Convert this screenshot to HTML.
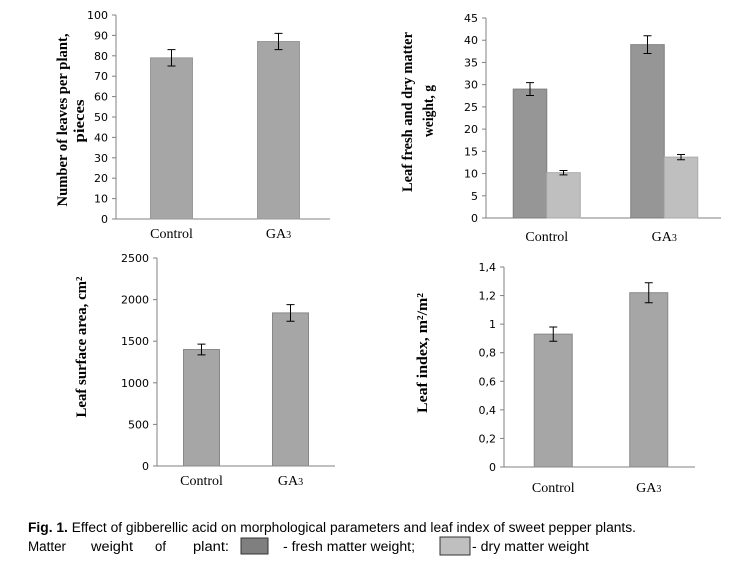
<!DOCTYPE html>
<html><head><meta charset="utf-8"><style>
html,body{margin:0;padding:0;background:#fff;}
svg{display:block}
.tick{font-family:"DejaVu Sans","Liberation Sans",sans-serif;font-size:11px;fill:#000}
.cat{font-family:"Liberation Serif",serif;font-size:14px;fill:#000}
.yt{font-family:"Liberation Serif",serif;font-size:15px;font-weight:bold;fill:#000}
.cap{font-family:"Liberation Sans",sans-serif;font-size:13.5px;fill:#000}
</style></head><body>
<svg id="fig" width="735" height="572" viewBox="0 0 735 572" xmlns="http://www.w3.org/2000/svg">
<g id="c1"></g>
<g id="c2"></g>
<g id="c3"></g>
<g id="c4"></g>
<g>
<text class="cap" x="28" y="532" textLength="608" lengthAdjust="spacingAndGlyphs"><tspan font-weight="bold">Fig. 1.</tspan> Effect of gibberellic acid on morphological parameters and leaf index of sweet pepper plants.</text>
<text class="cap" x="28" y="551" textLength="38" lengthAdjust="spacingAndGlyphs">Matter</text>
<text class="cap" x="91" y="551" textLength="42" lengthAdjust="spacingAndGlyphs">weight</text>
<text class="cap" x="155" y="551" textLength="11" lengthAdjust="spacingAndGlyphs">of</text>
<text class="cap" x="193" y="551" textLength="36" lengthAdjust="spacingAndGlyphs">plant:</text>
<rect x="241" y="538" width="27" height="16" fill="#7f7f7f" stroke="#333"/>
<text class="cap" x="283" y="551" textLength="132" lengthAdjust="spacingAndGlyphs">- fresh matter weight;</text>
<rect x="440" y="537" width="30" height="18" fill="#bfbfbf" stroke="#333"/>
<text class="cap" x="472" y="551" textLength="117" lengthAdjust="spacingAndGlyphs">- dry matter weight</text>
</g>
</svg>
<script>
const categories = ["Control", "GA3"];
const leavesValues = [79, 87];
const leavesErr = [4, 4];
const freshValues = [29, 39];
const freshErr = [1.45, 2];
const dryValues = [10.2, 13.7];
const dryErr = [0.5, 0.6];
const areaValues = [1400, 1840];
const areaErr = [65, 100];
const indexValues = [0.93, 1.22];
const indexErr = [0.05, 0.07];
const leavesTicks = [0,10,20,30,40,50,60,70,80,90,100];
const weightTicks = [0,5,10,15,20,25,30,35,40,45];
const areaTicks = [0,500,1000,1500,2000,2500];
const indexTicks = [0,0.2,0.4,0.6,0.8,1,1.2,1.4];

const NS = "http://www.w3.org/2000/svg";
function mk(parent, tag, attrs, text){
  const e = document.createElementNS(NS, tag);
  for (const k in attrs) e.setAttribute(k, attrs[k]);
  if (text !== undefined) e.textContent = text;
  parent.appendChild(e);
  return e;
}
function fmt(v, comma){ return comma ? String(v).replace('.', ',') : String(v); }

function chart(cfg){
  const g = document.getElementById(cfg.id);
  const max = cfg.ticks[cfg.ticks.length-1];
  const y = v => cfg.y0 - (v / max) * (cfg.y0 - cfg.yTop);
  const ax = mk(g, 'line', {x1:cfg.x0, y1:cfg.yTop, x2:cfg.x0, y2:cfg.y0, stroke:'#808080'});
  
  
  const xa = mk(g, 'line', {x1:cfg.x0, y1:cfg.y0, x2:cfg.x1, y2:cfg.y0, stroke:'#808080'});
  
  
  cfg.ticks.forEach(t => {
    const ty = y(t);
    const tl = mk(g, 'line', {x1:cfg.x0-4, y1:ty, x2:cfg.x0, y2:ty, stroke:'#808080'});
    
    
    const tx = mk(g, 'text', {x:cfg.x0-8, y:ty+4, 'text-anchor':'end', class:'tick'}, fmt(t, cfg.comma));
    
    
  });
  const slot = (cfg.x1 - cfg.x0) / categories.length;
  categories.forEach((c, i) => {
    const cx = cfg.x0 + slot * (i + 0.5) + cfg.shift;
    cfg.series.forEach((s, j) => {
      const bx = cx + (j - cfg.series.length/2) * cfg.bw;
      const v = s.values[i];
      const r = mk(g, 'rect', {x:bx, y:y(v), width:cfg.bw, height:cfg.y0 - y(v), fill:s.color, stroke:s.stroke});
      
      
      const ex = bx + cfg.bw/2, e = s.err[i];
      const eb = mk(g, 'path', {d:`M${ex},${y(v+e)}V${y(v-e)}M${ex-4},${y(v+e)}H${ex+4}M${ex-4},${y(v-e)}H${ex+4}`, stroke:'#000', fill:'none'});
      
      
    });
    const lab = mk(g, 'text', {x:cx, y:cfg.labY, 'text-anchor':'middle', class:'cat'});
    
    
    if (c === 'GA3') { lab.textContent = 'GA'; mk(lab, 'tspan', {'font-size':'10'}, '3'); }
    else lab.textContent = c;
  });
  cfg.titles.forEach(t => {
    const tt = mk(g, 'text', {x:0, y:0, 'text-anchor':'middle', class:'yt', transform:`translate(${t.x},${t.y}) rotate(-90)`, textLength:t.len, lengthAdjust:'spacingAndGlyphs'}, t.text);
    
    
  });
}

chart({id:'c1', x0:116, x1:330, yTop:15, y0:219, ticks:leavesTicks, bw:42, shift:2, labY:238,
  series:[{name:'leaves', values:leavesValues, err:leavesErr, color:'#a6a6a6', stroke:'#999'}],
  titles:[{text:'Number of leaves per plant,', x:67, y:120, len:173},{text:'pieces', x:84, y:121, len:43}]});
chart({id:'c2', x0:486, x1:721, yTop:18, y0:218, ticks:weightTicks, bw:33.5, shift:2, labY:241,
  series:[{name:'fresh', values:freshValues, err:freshErr, color:'#969696', stroke:'#7f7f7f'},
          {name:'dry', values:dryValues, err:dryErr, color:'#bfbfbf', stroke:'#aaa'}],
  titles:[{text:'Leaf fresh and dry matter', x:412, y:112, len:160},{text:'weight, g', x:433, y:111, len:52}]});
chart({id:'c3', x0:157, x1:335, yTop:258, y0:466, ticks:areaTicks, bw:36, shift:0, labY:485,
  series:[{name:'area', values:areaValues, err:areaErr, color:'#a6a6a6', stroke:'#888'}],
  titles:[{text:'Leaf surface area, cm²', x:86, y:347, len:141}]});
chart({id:'c4', x0:504, x1:695, yTop:267, y0:467, ticks:indexTicks, bw:38, shift:1.5, labY:492, comma:true,
  series:[{name:'index', values:indexValues, err:indexErr, color:'#a6a6a6', stroke:'#888'}],
  titles:[{text:'Leaf index, m²/m²', x:427, y:353, len:120}]});
</script>
</body></html>
